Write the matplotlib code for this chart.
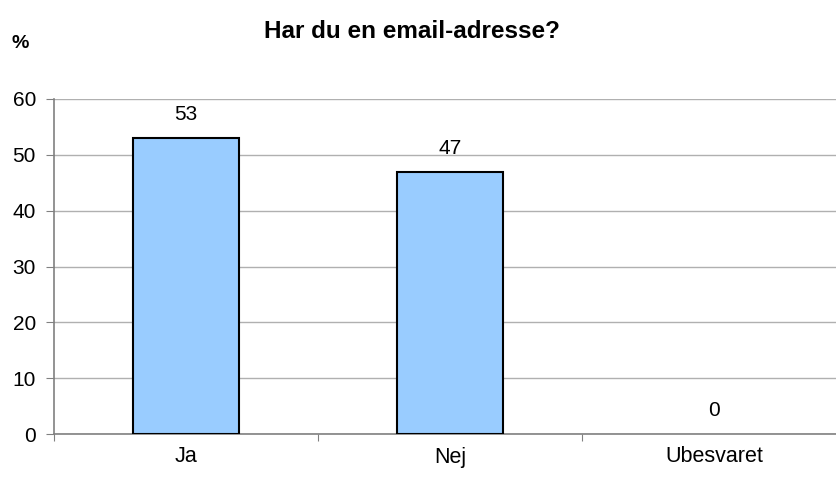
import matplotlib
matplotlib.use("Agg")
import matplotlib.pyplot as plt

categories = ["Ja", "Nej", "Ubesvaret"]
values = [53, 47, 0]
y_ticks = [0, 10, 20, 30, 40, 50, 60]

plt.rcParams["font.family"] = ["Liberation Sans", "DejaVu Sans"]

fig = plt.figure(figsize=(8.36, 4.8), dpi=100)
# axes run a little past the right edge, as in the original
ax = fig.add_axes([54 / 836, 46 / 480, 792 / 836, 335 / 480])

x = list(range(len(categories)))
# zero-height bars get no outline
edge_widths = [1.5 if v else 0 for v in values]
ax.bar(x, values, width=0.4, color="#99ccff", edgecolor="black",
       linewidth=edge_widths, zorder=3)

for xi, v in zip(x, values):
    ax.text(xi, v + 4.2, str(v), ha="center", va="center", fontsize=15)

ax.set_xlim(-0.5, len(categories) - 0.5)
ax.set_ylim(0, 60)
ax.set_yticks(y_ticks)
ax.tick_params(axis="y", labelsize=15, length=6, color="#808080", pad=7)
ax.set_xticks([i - 0.5 for i in range(len(categories) + 1)])
ax.set_xticklabels([])
ax.set_xticks(x, minor=True)
ax.set_xticklabels(categories, minor=True, fontsize=15.5)
ax.tick_params(axis="x", which="major", length=5, color="#808080")
ax.tick_params(axis="x", which="minor", length=0, pad=9)

ax.grid(axis="y", color="#b0b0b0", linewidth=1, zorder=0)
for s in ["top", "right"]:
    ax.spines[s].set_visible(False)
for s in ["left", "bottom"]:
    ax.spines[s].set_color("#808080")
    ax.spines[s].set_linewidth(1.2)

fig.text(412 / 836, 1 - 32 / 480, "Har du en email-adresse?", ha="center", va="center",
         fontsize=17.5, fontweight="bold")
fig.text(20 / 836, 1 - 43 / 480, "%", ha="center", va="center", fontsize=14, fontweight="bold")

fig.savefig("out.png", dpi=100)
